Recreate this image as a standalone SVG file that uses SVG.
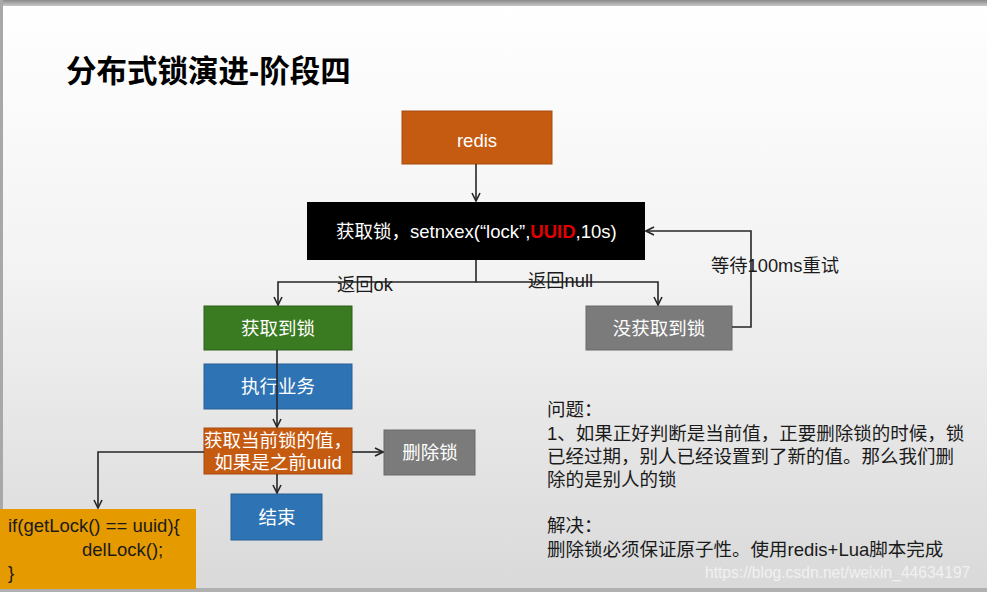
<svg xmlns="http://www.w3.org/2000/svg" width="987" height="592" viewBox="0 0 987 592">
<defs>
<linearGradient id="bg" x1="0" y1="0" x2="0" y2="1">
<stop offset="0" stop-color="#ffffff"/>
<stop offset="0.45" stop-color="#f3f3f3"/>
<stop offset="1" stop-color="#d9d9d9"/>
</linearGradient>
<linearGradient id="topbar" x1="0" y1="0" x2="0" y2="1">
<stop offset="0" stop-color="#8a8a8a"/>
<stop offset="1" stop-color="#c8c8c8"/>
</linearGradient>
<marker id="arr" viewBox="0 0 10 10" refX="9" refY="5" markerWidth="10" markerHeight="10" markerUnits="userSpaceOnUse" orient="auto">
<path d="M1,1 L9,5 L1,9" fill="none" stroke="#262626" stroke-width="1.6"/>
</marker>
</defs>
<style>
.cjk{font-family:"Liberation Sans","Noto Sans CJK SC",sans-serif}
.w{fill:#ffffff;font-size:18.5px}
.lbl{fill:#1a1a1a;font-size:18.3px}
.note{fill:#1a1a1a;font-size:18.5px}
.code{fill:#1a1a1a;font-size:18.5px}
.ln{fill:none;stroke:#262626;stroke-width:1.6}
</style>
<rect x="0" y="0" width="987" height="592" fill="url(#bg)"/>
<rect x="0" y="0" width="987" height="6" fill="url(#topbar)"/>
<rect x="0" y="0" width="3" height="592" fill="#a8a8a8"/>
<rect x="0" y="588" width="987" height="4" fill="#b0b0b0"/>

<text id="title" x="66" y="82" class="cjk" font-size="30.5" font-weight="bold" fill="#000">分布式锁演进-阶段四</text>

<g id="redis">
<rect x="402" y="111" width="150" height="53" fill="#c55a11" stroke="#a84a0c"/>
<text x="477" y="147" class="cjk w" font-size="21" text-anchor="middle">redis</text>
</g>
<g id="acquire">
<rect x="307" y="202" width="338" height="58" fill="#000"/>
<text x="336" y="238" class="cjk" font-size="18.5" fill="#fff">获取锁，setnxex(“lock”,<tspan fill="#e00000" font-weight="bold">UUID</tspan>,10s)</text>
</g>
<g id="got">
<rect x="204" y="306" width="148" height="44" fill="#3a7a20" stroke="#2d5f18"/>
<text x="278" y="335" class="cjk w" text-anchor="middle">获取到锁</text>
</g>
<g id="notgot">
<rect x="586" y="306" width="146" height="44" fill="#7b7b7b" stroke="#6a6a6a"/>
<text x="659" y="335" class="cjk w" text-anchor="middle">没获取到锁</text>
</g>
<g id="biz">
<rect x="204" y="364" width="148" height="45" fill="#2e74b5" stroke="#285f93"/>
<text x="278" y="393" class="cjk w" text-anchor="middle">执行业务</text>
</g>
<g id="check">
<rect x="204" y="428" width="148" height="46" fill="#c55a11" stroke="#a84a0c"/>
<text x="278" y="447" class="cjk w" text-anchor="middle">获取当前锁的值，</text>
<text x="278" y="469" class="cjk w" text-anchor="middle">如果是之前uuid</text>
</g>
<g id="del">
<rect x="384" y="430" width="91" height="45" fill="#7b7b7b" stroke="#6a6a6a"/>
<text x="430" y="459" class="cjk w" text-anchor="middle">删除锁</text>
</g>
<g id="end">
<rect x="231" y="494" width="91" height="46" fill="#2e74b5" stroke="#285f93"/>
<text x="277" y="524" class="cjk w" text-anchor="middle">结束</text>
</g>
<g id="code">
<rect x="0" y="509" width="196" height="80" fill="#e59a00"/>
<text x="8" y="532" class="cjk code">if(getLock() == uuid){</text>
<text x="82" y="556" class="cjk code">delLock();</text>
<text x="8" y="579" class="cjk code">}</text>
</g>

<g id="connectors">
<path class="ln" d="M476,164 V201" marker-end="url(#arr)"/>
<path class="ln" d="M476,260 V282 H278 V305" marker-end="url(#arr)"/>
<path class="ln" d="M476,282 H658 V305" marker-end="url(#arr)"/>
<path class="ln" d="M732,327 H751 V231 H646" marker-end="url(#arr)"/>
<path class="ln" d="M277,350 V427" marker-end="url(#arr)"/>
<path class="ln" d="M352,452 H383" marker-end="url(#arr)"/>
<path class="ln" d="M204,452 H98 V508" marker-end="url(#arr)"/>
<path class="ln" d="M277,474 V493" marker-end="url(#arr)"/>
<text x="337" y="291" class="cjk lbl">返回ok</text>
<text x="528" y="287" class="cjk lbl">返回null</text>
<text x="711" y="272" class="cjk lbl">等待100ms重试</text>
</g>

<g id="notes">
<text x="547" y="416" class="cjk note">问题：</text>
<text x="547" y="440" class="cjk note">1、如果正好判断是当前值，正要删除锁的时候，锁</text>
<text x="547" y="463" class="cjk note">已经过期，别人已经设置到了新的值。那么我们删</text>
<text x="547" y="486" class="cjk note">除的是别人的锁</text>
<text x="547" y="532" class="cjk note">解决：</text>
<text x="547" y="556" class="cjk note">删除锁必须保证原子性。使用redis+Lua脚本完成</text>
</g>
<text x="705" y="578" class="cjk" font-size="15.6" fill="#f4f4f4" fill-opacity="0.9">https://blog.csdn.net/weixin_44634197</text>
</svg>
